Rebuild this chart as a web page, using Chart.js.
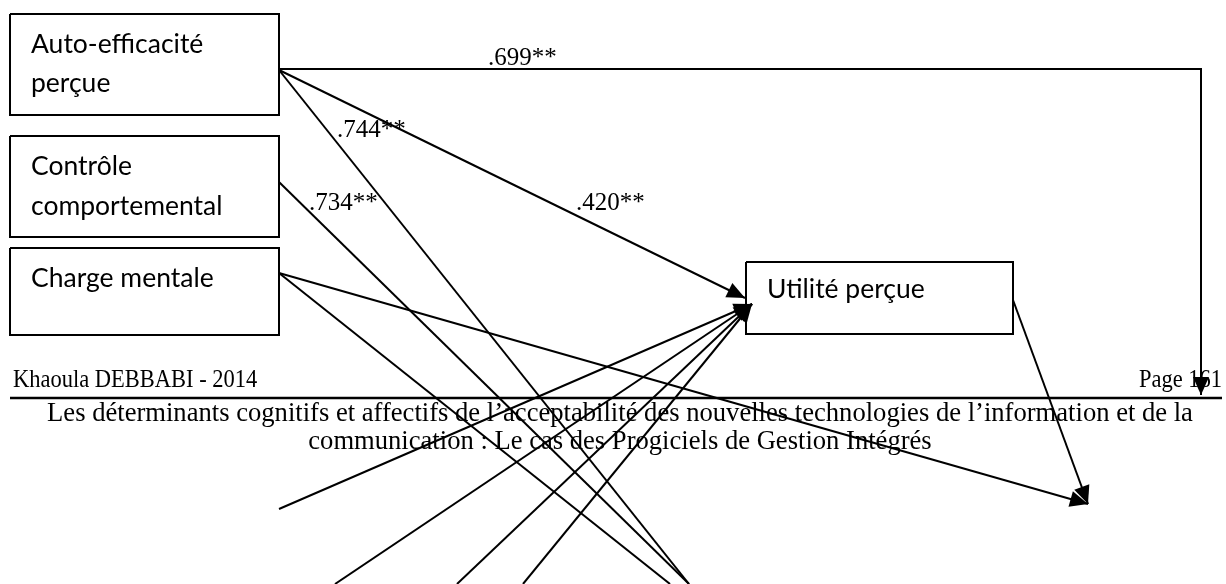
<!DOCTYPE html>
<html>
<head>
<meta charset="utf-8">
<script src="https://cdn.jsdelivr.net/npm/chart.js@4.4.1/dist/chart.umd.min.js"></script>
<style>
  html, body { margin: 0; padding: 0; background: #fff; overflow: hidden; }
  canvas { display: block; }
</style>
</head>
<body>
<canvas id="diagram" width="1226" height="584"></canvas>
<script>
// constructs of the model (boxes), coordinates are axis units of the diagram
const constructs = [['Auto-efficacité', 'perçue'], ['Contrôle', 'comportemental'], ['Charge mentale'], ['Utilité perçue']];
const boxX0 = [10, 10, 10, 746];
const boxX1 = [279, 279, 279, 1013];
const boxY0 = [14, 136, 248, 262];
const boxY1 = [115, 237, 335, 334];
const nameX = [31, 31, 31, 767];
const nameY = [[53, 92], [175, 215], [287], [298]];

// paths between constructs, the last point of an arrowed path gets a head
const pathX = [
  [279, 1201, 1201],
  [279, 745],
  [279, 689],
  [279, 689],
  [279, 670],
  [279, 1088],
  [1013, 1088],
  [279, 752],
  [335, 752],
  [457, 752],
  [523, 752]
];
const pathY = [
  [69, 69, 395],
  [70, 298],
  [70, 584],
  [182, 584],
  [273, 584],
  [273, 504],
  [300, 504],
  [509, 304],
  [584, 304],
  [584, 304],
  [584, 304]
];
const pathArrow = [true, true, false, false, false, true, true, true, true, true, true];

// path coefficients
const coefs = ['.699**', '.744**', '.734**', '.420**'];
const coefX = [488, 337, 309, 576];
const coefY = [65, 137, 210, 210];

// page furniture of the source document
const footLeft = 'Khaoula DEBBABI - 2014';
const footRight = 'Page 161';
const headLines = [
  'Les déterminants cognitifs et affectifs de l\u2019acceptabilité des nouvelles technologies de l\u2019information et de la',
  'communication : Le cas des Progiciels de Gestion Intégrés'
];
const headY = [421, 449];
const ruleX = [10, 1222];
const ruleY = 398;

const datasets = [];
constructs.forEach((c, i) => {
  datasets.push({
    data: [
      { x: boxX0[i], y: boxY0[i] }, { x: boxX1[i], y: boxY0[i] },
      { x: boxX1[i], y: boxY1[i] }, { x: boxX0[i], y: boxY1[i] },
      { x: boxX0[i], y: boxY0[i] }
    ],
    borderColor: '#000', borderWidth: 2, showLine: true, pointRadius: 0, clip: false, arrow: false
  });
});
pathX.forEach((xs, i) => {
  datasets.push({
    data: xs.map((x, j) => ({ x: x, y: pathY[i][j] })),
    borderColor: '#000', borderWidth: 2, showLine: true, pointRadius: 0, clip: false, arrow: pathArrow[i]
  });
});
datasets.push({
  data: [{ x: ruleX[0], y: ruleY }, { x: ruleX[1], y: ruleY }],
  borderColor: '#000', borderWidth: 2.5, showLine: true, pointRadius: 0, clip: false, arrow: false
});

function txt(ctx, s, x, y, font, align, sx) {
  ctx.save();
  ctx.font = font;
  ctx.translate(x, y);
  ctx.scale(sx, 1);
  ctx.textAlign = align;
  ctx.textBaseline = 'alphabetic';
  ctx.fillStyle = '#000';
  ctx.fillText(s, 0, 0);
  ctx.restore();
}

const diagramPlugin = {
  id: 'diagram',
  beforeDraw(chart) {
    const ctx = chart.ctx;
    ctx.save();
    ctx.fillStyle = '#fff';
    ctx.fillRect(0, 0, chart.width, chart.height);
    ctx.restore();
  },
  afterDatasetsDraw(chart) {
    const ctx = chart.ctx;
    const xs = chart.scales.x, ys = chart.scales.y;
    const serif = '"Liberation Serif", "Times New Roman", serif';
    const sans = 'Lato, "Open Sans", sans-serif';

    // arrow heads
    chart.data.datasets.forEach(ds => {
      if (!ds.arrow) return;
      const n = ds.data.length;
      const a = ds.data[n - 2], b = ds.data[n - 1];
      const x1 = xs.getPixelForValue(a.x), y1 = ys.getPixelForValue(a.y);
      const x2 = xs.getPixelForValue(b.x), y2 = ys.getPixelForValue(b.y);
      const ang = Math.atan2(y2 - y1, x2 - x1);
      const L = 18, W = 8;
      ctx.save();
      ctx.fillStyle = '#000';
      ctx.beginPath();
      ctx.moveTo(x2, y2);
      ctx.lineTo(x2 - L * Math.cos(ang) + W * Math.sin(ang), y2 - L * Math.sin(ang) - W * Math.cos(ang));
      ctx.lineTo(x2 - L * Math.cos(ang) - W * Math.sin(ang), y2 - L * Math.sin(ang) + W * Math.cos(ang));
      ctx.closePath();
      ctx.fill();
      ctx.restore();
    });

    // construct names
    constructs.forEach((lines, i) => {
      lines.forEach((s, j) => {
        txt(ctx, s, xs.getPixelForValue(nameX[i]), ys.getPixelForValue(nameY[i][j]), '26.5px ' + sans, 'left', 1);
      });
    });

    // coefficients
    coefs.forEach((s, i) => {
      txt(ctx, s, xs.getPixelForValue(coefX[i]), ys.getPixelForValue(coefY[i]), '25px ' + serif, 'left', 1);
    });

    // footer / header of the page
    txt(ctx, footLeft, xs.getPixelForValue(13), ys.getPixelForValue(387), '26px ' + serif, 'left', 0.865);
    txt(ctx, footRight, xs.getPixelForValue(1222), ys.getPixelForValue(387), '26px ' + serif, 'right', 0.865);
    headLines.forEach((s, i) => {
      txt(ctx, s, xs.getPixelForValue(620), ys.getPixelForValue(headY[i]), '28px ' + serif, 'center', 0.95);
    });
  }
};

new Chart(document.getElementById('diagram'), {
  type: 'scatter',
  data: { datasets: datasets },
  options: {
    responsive: false,
    devicePixelRatio: 1,
    animation: false,
    layout: { padding: 0 },
    plugins: { legend: { display: false }, tooltip: { enabled: false } },
    scales: {
      x: { type: 'linear', min: 0, max: 1226, display: false },
      y: { type: 'linear', min: 0, max: 584, reverse: true, display: false }
    }
  },
  plugins: [diagramPlugin]
});
</script>
</body>
</html>
